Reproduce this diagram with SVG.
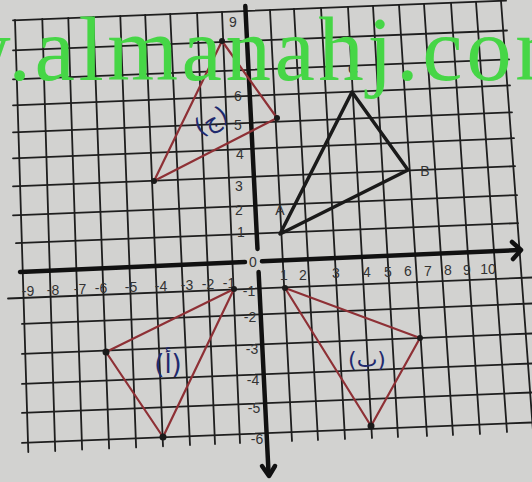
<svg xmlns="http://www.w3.org/2000/svg" width="532" height="482" viewBox="0 0 532 482">
<style>
.grid{stroke:#1e1e1e;stroke-width:1.8;fill:none;stroke-linecap:round}
.axis{stroke:#111;stroke-width:4.5;fill:none;stroke-linecap:round;stroke-linejoin:round}
.lbl{font-family:"Liberation Sans Narrow","Liberation Sans",Arial,sans-serif;font-size:14px;fill:#333;text-anchor:middle;dominant-baseline:central}
.tri{fill:none;stroke:#1a1a1a;stroke-width:3.5;stroke-linejoin:round}
.red{fill:none;stroke:#8e3035;stroke-width:2.2;stroke-linejoin:round}
.dot{fill:#1a1a1a}
.hand{font-family:"DejaVu Sans",sans-serif;fill:#1f2a6e;text-anchor:middle;dominant-baseline:central}
.wm{font-family:"Liberation Serif","Times New Roman",serif;font-size:91px;fill:#46d646}
</style>
<rect width="532" height="482" fill="#d2d2d0"/>
<g id="grid">
<line class="grid" x1="13" y1="20.3" x2="506" y2="0.6"/>
<line class="grid" x1="13" y1="50.3" x2="507" y2="30.5"/>
<line class="grid" x1="13" y1="79.3" x2="509" y2="59.4"/>
<line class="grid" x1="13" y1="105.3" x2="510" y2="85.4"/>
<line class="grid" x1="13" y1="132.3" x2="512" y2="112.3"/>
<line class="grid" x1="13" y1="158.3" x2="514" y2="138.2"/>
<line class="grid" x1="13" y1="186.3" x2="515" y2="166.2"/>
<line class="grid" x1="13" y1="215.3" x2="517" y2="195.1"/>
<line class="grid" x1="16" y1="243.2" x2="518" y2="223.1"/>
<line class="grid" x1="8" y1="298.5" x2="532" y2="277.5"/>
<line class="grid" x1="22" y1="323.9" x2="532" y2="303.5"/>
<line class="grid" x1="22" y1="353.9" x2="532" y2="333.5"/>
<line class="grid" x1="22" y1="383.9" x2="532" y2="363.5"/>
<line class="grid" x1="22" y1="412.9" x2="532" y2="392.5"/>
<line class="grid" x1="22" y1="442.9" x2="532" y2="422.5"/>
<line class="grid" x1="15" y1="20" x2="28.3" y2="452"/>
<line class="grid" x1="42.3" y1="19" x2="55.2" y2="451"/>
<line class="grid" x1="68.3" y1="18" x2="82.1" y2="449.5"/>
<line class="grid" x1="93.3" y1="17" x2="109.1" y2="448.4"/>
<line class="grid" x1="120.3" y1="16" x2="136.1" y2="447.4"/>
<line class="grid" x1="145.2" y1="15" x2="163" y2="446.3"/>
<line class="grid" x1="170.2" y1="14" x2="190" y2="445"/>
<line class="grid" x1="197.1" y1="13" x2="215" y2="444"/>
<line class="grid" x1="222" y1="12" x2="240" y2="443"/>
<line class="grid" x1="270" y1="10" x2="292" y2="441"/>
<line class="grid" x1="294" y1="9" x2="318" y2="440"/>
<line class="grid" x1="321" y1="8" x2="345" y2="439"/>
<line class="grid" x1="348" y1="7" x2="372" y2="438"/>
<line class="grid" x1="373" y1="6" x2="398" y2="437"/>
<line class="grid" x1="399" y1="5" x2="427" y2="436"/>
<line class="grid" x1="424" y1="4" x2="453" y2="435"/>
<line class="grid" x1="451" y1="3" x2="480" y2="434"/>
<line class="grid" x1="476" y1="2" x2="507" y2="432"/>
<line class="grid" x1="501" y1="1" x2="533" y2="431"/>
</g>
<g id="axes">
<line class="axis" x1="20" y1="272" x2="245" y2="262"/>
<line class="axis" x1="262" y1="261.3" x2="520" y2="250"/>
<polyline class="axis" points="512,242 521,250 513,259"/>
<line class="axis" x1="245.3" y1="6" x2="257.5" y2="249"/>
<line class="axis" x1="258.6" y1="272" x2="268.6" y2="474"/>
<polyline class="axis" points="262,466 269,476 275,466"/>
</g>
<g id="labels">
<text class="lbl" x="253" y="262">0</text>
<text class="lbl" x="233" y="22">9</text>
<text class="lbl" x="238" y="96">6</text>
<text class="lbl" x="238" y="125">5</text>
<text class="lbl" x="240" y="154">4</text>
<text class="lbl" x="239" y="186">3</text>
<text class="lbl" x="239" y="210">2</text>
<text class="lbl" x="241" y="232">1</text>
<text class="lbl" x="249" y="291">-1</text>
<text class="lbl" x="250" y="317">-2</text>
<text class="lbl" x="252" y="349">-3</text>
<text class="lbl" x="253" y="380">-4</text>
<text class="lbl" x="254" y="408">-5</text>
<text class="lbl" x="257" y="439">-6</text>
<text class="lbl" x="28" y="291">-9</text>
<text class="lbl" x="53" y="290">-8</text>
<text class="lbl" x="80" y="289">-7</text>
<text class="lbl" x="101" y="288">-6</text>
<text class="lbl" x="131" y="287">-5</text>
<text class="lbl" x="161" y="286">-4</text>
<text class="lbl" x="187" y="285">-3</text>
<text class="lbl" x="208" y="284">-2</text>
<text class="lbl" x="229" y="283">-1</text>
<text class="lbl" x="284" y="275">1</text>
<text class="lbl" x="303" y="275">2</text>
<text class="lbl" x="336" y="273">3</text>
<text class="lbl" x="367" y="272">4</text>
<text class="lbl" x="388" y="272">5</text>
<text class="lbl" x="408" y="271">6</text>
<text class="lbl" x="428" y="271">7</text>
<text class="lbl" x="448" y="270">8</text>
<text class="lbl" x="467" y="270">9</text>
<text class="lbl" x="488" y="269">10</text>
</g>
<g id="triangle-ABC">
<polygon class="tri" points="280,234 408,170 352,92"/>
<text class="lbl" x="280" y="210">A</text>
<text class="lbl" x="425" y="171">B</text>
<text class="lbl" x="353" y="69">C</text>
</g>
<g id="triangle-j">
<polygon class="red" points="222,41 277,118 154,181"/>
<circle class="dot" cx="222" cy="41" r="3"/>
<circle class="dot" cx="277" cy="118" r="3"/>
<circle class="dot" cx="154" cy="181" r="3"/>
<text class="hand" font-size="24" transform="translate(211,121) rotate(-30)">(ج)</text>
</g>
<g id="triangle-a">
<polygon class="red" points="234,289 106,352 163,437"/>
<circle class="dot" cx="234" cy="289" r="3"/>
<circle class="dot" cx="106" cy="352" r="3.5"/>
<circle class="dot" cx="163" cy="437" r="3.5"/>
<text class="hand" font-size="26" x="168" y="364">(أ)</text>
</g>
<g id="triangle-b">
<polygon class="red" points="285,288 420,338 371,426"/>
<circle class="dot" cx="285" cy="288" r="3"/>
<circle class="dot" cx="420" cy="338" r="3"/>
<circle class="dot" cx="371" cy="426" r="3.5"/>
<text class="hand" font-size="22" x="367" y="359">(ب)</text>
</g>
<text class="wm" x="-55" y="80" textLength="641" lengthAdjust="spacing">w.almanahj.com</text>
</svg>
